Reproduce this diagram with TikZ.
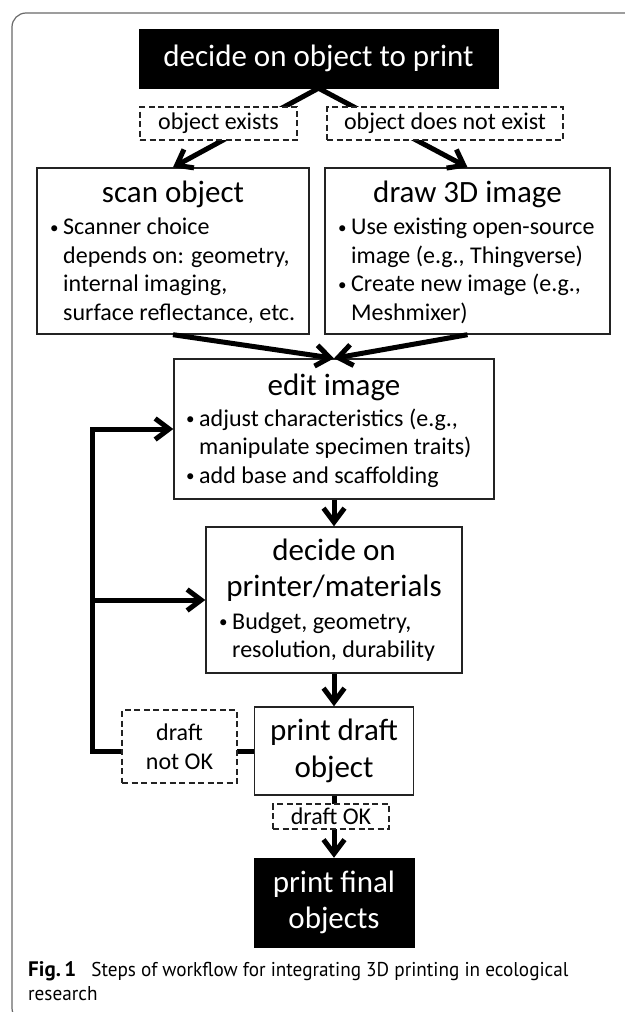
\documentclass[tikz,border=0pt]{standalone}
\usepackage{fontspec}
\setmainfont{Carlito}
\newfontfamily\capfont[FakeStretch=0.96]{PT Sans}
\newfontfamily\capbold[BoldFont={* Bold}]{PT Sans}
\usetikzlibrary{arrows.meta}

\definecolor{boxc}{RGB}{35,35,35}
\definecolor{framec}{RGB}{105,105,105}

% font sizes for box titles, bullet text and dashed labels
\newcommand\ttlfont{\fontsize{31}{36.5}\selectfont}
\newcommand\bodyfont{\fontsize{24}{28.5}\selectfont}
\newcommand\lblfont{\fontsize{24}{29}\selectfont}
% small bullet followed by the indent that continuation lines share
\newcommand\bul{\makebox[13pt][l]{\raisebox{1.5pt}{\fontsize{17}{17}\selectfont\textbullet}}}
\newcommand\ind{\hspace*{13pt}}

\begin{document}
\begin{tikzpicture}[x=1pt,y=-1pt,
  box/.style={draw=boxc, line width=1.4pt, fill=white, inner sep=0pt},
  blackbox/.style={draw=black, fill=black, text=white, inner sep=0pt, font=\ttlfont, align=center},
  lbl/.style={draw=boxc, line width=1.2pt, dash pattern=on 6pt off 3.5pt, fill=white,
              inner sep=0pt, font=\lblfont, align=center},
  txt/.style={inner sep=0pt},
  flow/.style={line width=5pt, line join=miter, -{Straight Barb[length=14pt,width=21pt]}},
]
\useasboundingbox (0,0) rectangle (624,1012);

% figure frame with rounded corner
\draw[framec, line width=1.2pt, rounded corners=14pt] (12,13) rectangle (660,1022);

% process boxes
\node[blackbox, minimum width=359pt, minimum height=59pt] (top) at (318.5,58.5) {decide on object to print};
\node[box, minimum width=272pt, minimum height=166pt] (scan) at (173,251) {};
\node[box, minimum width=285pt, minimum height=166pt] (draw3d) at (467.5,251) {};
\node[box, minimum width=320pt, minimum height=140pt] (edit) at (334,429) {};
\node[box, minimum width=256pt, minimum height=146pt] (dec) at (334,600) {};
\node[box, minimum width=159pt, minimum height=88pt, font=\ttlfont, align=center] (pd) at (334,751) {print draft\\object};
\node[blackbox, minimum width=160pt, minimum height=89pt] (fin) at (334,902.5) {print final\\objects};

% box contents
\node[txt, anchor=base] (scanT) at (173,202) {\ttlfont scan object};
\node[txt, anchor=base west] (scanB) at (50,234.5) {\parbox[t]{258pt}{\bodyfont\raggedright
  \bul Scanner choice\\\ind depends on: geometry,\\\ind internal imaging,\\\ind surface reflectance, etc.}};

\node[txt, anchor=base] (drawT) at (467.5,202) {\ttlfont draw 3D image};
\node[txt, anchor=base west] (drawB) at (338,234.5) {\parbox[t]{270pt}{\bodyfont\raggedright
  \bul Use existing open-source\\\ind image (e.g., Thingverse)\\\bul Create new image (e.g.,\\\ind Meshmixer)}};

\node[txt, anchor=base] (editT) at (334,395) {\ttlfont edit image};
\node[txt, anchor=base west] (editB) at (186,426) {\parbox[t]{305pt}{\bodyfont\raggedright
  \bul adjust characteristics (e.g.,\\\ind manipulate specimen traits)\\\bul add base and scaffolding}};

\node[txt, anchor=base] (decT) at (334,560) {\parbox[t]{250pt}{\fontsize{31}{36}\selectfont\centering decide on\\printer/materials}};
\node[txt, anchor=base west] (decB) at (219,629) {\parbox[t]{240pt}{\fontsize{24}{28}\selectfont\raggedright
  \bul Budget, geometry,\\\ind resolution, durability}};

% connectors
\draw[flow] (top.south) -- (scan.north);
\draw[flow] (top.south) -- (draw3d.north);
\draw[flow] (scan.south) -- (edit.north);
\draw[flow] (draw3d.south) -- (edit.north);
\draw[flow] (edit.south) -- (dec.north);
\draw[flow] (dec.south) -- (pd.north);
\draw[flow] (pd.south) -- (fin.north);
\coordinate (loop) at (92,751);
\draw[flow] (pd.west) -- (loop) |- (edit.west);
\draw[flow] (loop |- dec.west) -- (dec.west);

% decision labels on top of the connectors
\node[lbl, minimum width=157pt, minimum height=33pt] (yes) at (218.5,123.5) {object exists};
\node[lbl, minimum width=236pt, minimum height=33pt] (no) at (445,123.5) {object does not exist};
\node[lbl, minimum width=115pt, minimum height=73pt] (bad) at (179.5,746.5) {draft\\not OK};
\node[lbl, minimum width=116pt, minimum height=25pt] (good) at (331,816.5) {draft OK};

% caption
\node[txt, anchor=base west] (cap) at (28,976) {\parbox[t]{590pt}{\capfont\fontsize{20}{24.5}\selectfont\raggedright
  {\capbold\fontsize{21}{24.5}\selectfont\bfseries Fig.\,1}\hspace{0.75em}Steps of workflow for integrating 3D printing in ecological\\research}};
\end{tikzpicture}
\end{document}
